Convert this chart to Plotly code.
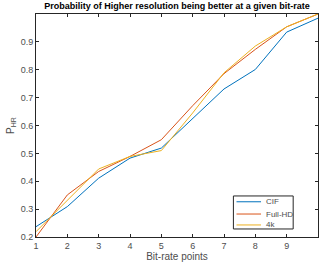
import plotly.graph_objects as go

x = [1, 2, 3, 4, 5, 6, 7, 8, 9, 10]
cif = [0.237, 0.309, 0.411, 0.483, 0.519, 0.625, 0.731, 0.801, 0.935, 0.985]
fullhd = [0.200, 0.351, 0.435, 0.489, 0.549, 0.671, 0.786, 0.873, 0.954, 1.0]
k4 = [0.219, 0.333, 0.444, 0.489, 0.510, 0.645, 0.789, 0.885, 0.954, 1.0]
names = ["CIF", "Full-HD", "4k"]
colors = ["#0072BD", "#D95319", "#EDB120"]
ytick = [0.2, 0.3, 0.4, 0.5, 0.6, 0.7, 0.8, 0.9]
xtick = [1, 2, 3, 4, 5, 6, 7, 8, 9]

fig = go.Figure()
for name, ys, c in zip(names, [cif, fullhd, k4], colors):
    fig.add_trace(go.Scatter(x=x, y=ys, mode="lines", name=name, showlegend=False,
                             line=dict(color=c, width=1)))

FONT = "Liberation Sans, Arial"
axis_common = dict(showline=True, linecolor="#262626", linewidth=1, mirror="ticks",
                   ticks="inside", ticklen=3, tickcolor="#262626", showgrid=False,
                   zeroline=False, tickfont=dict(size=9, color="#4d4d4d", family=FONT))
fig.update_xaxes(range=[1, 10], tickvals=xtick, **axis_common,
                 title=dict(text="Bit-rate points", standoff=2,
                            font=dict(size=10, color="#4d4d4d", family=FONT)))
fig.update_yaxes(range=[0.2, 1.0], tickvals=ytick, **axis_common,
                 title=dict(text="P<sub>HR</sub>", standoff=4,
                            font=dict(size=10, color="#4d4d4d", family=FONT)))

# compact MATLAB-style legend box (layout decoration)
shapes = [dict(type="rect", xref="paper", yref="paper", x0=0.700, x1=0.912, y0=0.036, y1=0.184,
               line=dict(color="#262626", width=1), fillcolor="white", layer="above")]
annotations = []
row_y = [0.158, 0.103, 0.054]
for name, c, ry in zip(names, colors, row_y):
    shapes.append(dict(type="line", xref="paper", yref="paper", x0=0.711, x1=0.798, y0=ry, y1=ry,
                       line=dict(color=c, width=1), layer="above"))
    annotations.append(dict(text=name, xref="paper", yref="paper", x=0.809, y=ry,
                            xanchor="left", yanchor="middle", showarrow=False,
                            font=dict(size=8, color="#4d4d4d", family=FONT)))

fig.update_layout(
    width=321, height=265,
    margin=dict(l=36, r=3, t=14, b=28),
    plot_bgcolor="white", paper_bgcolor="white",
    title=dict(text="<b>Probability of Higher resolution being better at a given bit-rate</b>",
               x=0.5, xanchor="center", xref="paper", y=0.99, yanchor="top",
               font=dict(size=9, color="#000000", family=FONT)),
    shapes=shapes, annotations=annotations,
)

fig.write_html("out.html")
